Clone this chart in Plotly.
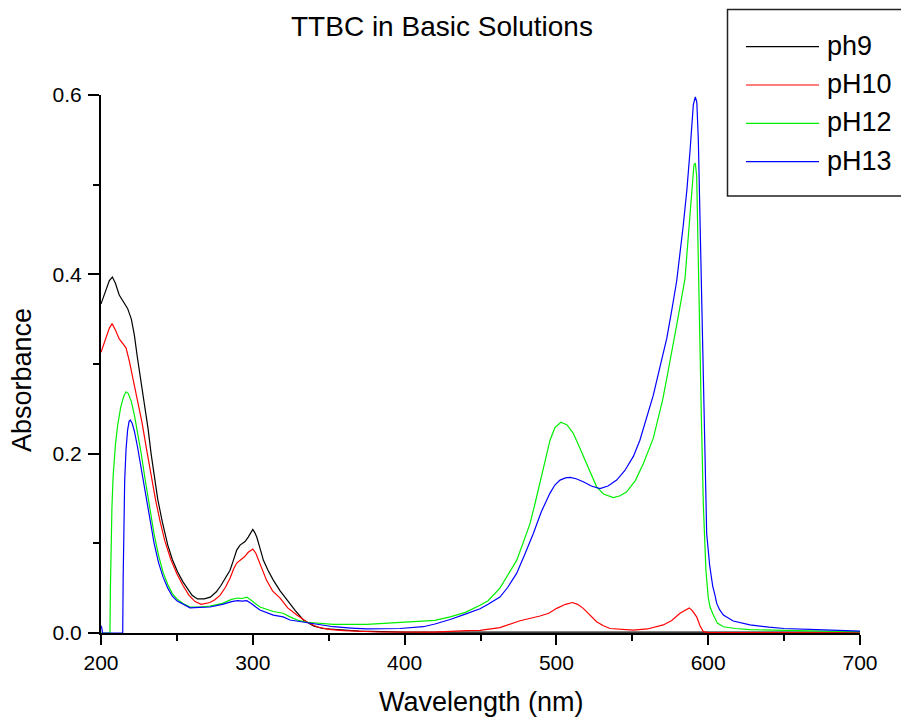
import plotly.graph_objects as go

# ---------------- data ----------------
names = ["ph9", "pH10", "pH12", "pH13"]
colors = ["#000000", "#ff0000", "#00ee00", "#0000ff"]

ph9_nm = [200, 203, 205.5, 207.5, 209.5, 212, 215, 217.5, 220, 222, 224, 226.5, 228.6, 231, 233, 235,
          237.4, 240.5, 244, 247, 250.5, 254, 257, 260, 263.5, 268, 272, 276, 279, 282, 285, 287.2,
          289.4, 291.6, 294.9, 297, 298.5, 300, 301.3, 302.6, 305, 307, 310, 313.5, 318, 322.3, 328,
          333.3, 340, 346, 357, 370, 400, 450, 500, 550, 600, 650, 700]
ph9_abs = [0.367, 0.382, 0.393, 0.397, 0.390, 0.377, 0.368, 0.362, 0.350, 0.332, 0.307, 0.280, 0.256,
           0.228, 0.200, 0.175, 0.149, 0.123, 0.098, 0.082, 0.068, 0.057, 0.049, 0.042, 0.038, 0.038,
           0.040, 0.046, 0.053, 0.061, 0.070, 0.081, 0.0925, 0.098, 0.102, 0.107, 0.112, 0.1156, 0.112,
           0.107, 0.093, 0.081, 0.070, 0.059, 0.047, 0.037, 0.025, 0.0145, 0.008, 0.005, 0.0035, 0.002,
           0.001, 0.001, 0.0015, 0.001, 0.001, 0.001, 0.001]

ph10_nm = [200, 203, 205.5, 207.3, 209.5, 212, 216.5, 218.7, 221, 224, 227, 230, 233, 236, 239, 242,
           246, 250, 254, 258, 262, 266, 271.8, 275, 278.4, 282, 285, 287.5, 289.4, 291.6, 294.5, 297,
           300, 302, 304.7, 309, 313, 318, 323, 329, 335.5, 342, 350, 360, 383, 419, 441, 449.7, 462.8,
           476, 489.2, 495, 500.2, 506, 510.6, 514, 517.7, 522, 526.5, 531, 535.3, 550.7, 560, 570.4,
           576, 581.4, 585, 587.5, 589.5, 592.4, 594.6, 596.8, 600, 650, 700]
ph10_abs = [0.313, 0.328, 0.340, 0.345, 0.338, 0.328, 0.318, 0.303, 0.285, 0.262, 0.235, 0.205, 0.175,
            0.148, 0.124, 0.103, 0.082, 0.066, 0.053, 0.042, 0.035, 0.032, 0.034, 0.037, 0.042, 0.051,
            0.061, 0.072, 0.078, 0.0806, 0.085, 0.090, 0.0936, 0.089, 0.078, 0.059, 0.047, 0.039, 0.028,
            0.020, 0.0126, 0.007, 0.004, 0.0026, 0.0011, 0.001, 0.0026, 0.003, 0.006, 0.0137, 0.019,
            0.022, 0.0275, 0.032, 0.034, 0.032, 0.0275, 0.020, 0.0126, 0.008, 0.005, 0.0033, 0.0045,
            0.009, 0.014, 0.022, 0.026, 0.028, 0.025, 0.018, 0.008, 0.0015, 0.0005, 0.0003, 0.0003]

ph12_nm = [200, 205.9, 206.2, 206.6, 207.2, 208, 209.5, 211, 213, 215, 216.5, 218, 220, 222, 224, 226.5,
           229, 232, 235, 238, 241, 244, 247, 250, 254, 258.6, 265, 271.8, 280, 286, 290, 293, 296,
           298.5, 302.6, 304.7, 313.5, 320, 324.5, 330, 335.5, 345, 353, 375, 390.4, 400, 412.3, 420,
           430, 440, 449.7, 455, 462.8, 468, 473.8, 478, 482.6, 486, 489.2, 492.5, 495.8, 499, 503, 507,
           511, 514, 517.7, 522, 526.5, 531, 537.5, 542, 546.3, 552, 557.3, 563.8, 570, 572.7, 576,
           579.2, 584.7, 588, 590.6, 591.5, 592.4, 593.2, 594.1, 595.5, 596.8, 598.5, 600, 601.2, 603.4,
           606, 610, 618, 627.5, 650, 675, 700]
ph12_abs = [0.0, 0.0, 0.05, 0.10, 0.14, 0.175, 0.21, 0.232, 0.252, 0.264, 0.269, 0.267, 0.258, 0.243,
            0.225, 0.200, 0.172, 0.140, 0.110, 0.086, 0.067, 0.054, 0.044, 0.038, 0.033, 0.029, 0.029,
            0.030, 0.033, 0.0375, 0.039, 0.0385, 0.040, 0.037, 0.032, 0.029, 0.024, 0.022, 0.018, 0.014,
            0.012, 0.0105, 0.0097, 0.0097, 0.011, 0.0115, 0.0126, 0.014, 0.018, 0.023, 0.031, 0.036,
            0.050, 0.064, 0.081, 0.100, 0.122, 0.145, 0.167, 0.192, 0.215, 0.229, 0.235, 0.232, 0.223,
            0.212, 0.197, 0.180, 0.163, 0.155, 0.151, 0.153, 0.1575, 0.170, 0.189, 0.217, 0.26, 0.284,
            0.313, 0.343, 0.395, 0.462, 0.522, 0.524, 0.51, 0.44, 0.351, 0.24, 0.143, 0.07, 0.040, 0.029,
            0.020, 0.011, 0.007, 0.005, 0.0037, 0.0026, 0.002, 0.0015]

ph13_nm = [200, 200.5, 201, 214.3, 214.6, 215, 215.6, 216.5, 217.5, 218.5, 219.3, 220.5, 222, 224,
           226.5, 229, 232, 235, 238, 241, 244, 247, 250, 254, 258.6, 265, 271.8, 280, 286, 290, 293,
           296, 299, 302, 304.7, 313.5, 320, 324.5, 335.5, 345, 353, 365, 375, 397, 405, 412.3, 420,
           430, 440, 449.7, 455, 462.8, 468, 473.8, 479, 484.8, 490, 495.8, 499, 502.4, 506, 509, 513,
           517.7, 523, 528.7, 534, 539.7, 545, 550.7, 555, 561, 563.8, 568, 572.7, 576, 579.2, 583.6,
           586, 588, 590.2, 591.5, 592.5, 593.5, 594.5, 595.7, 597, 598.3, 599, 601, 603, 604.5, 605.6,
           607.5, 610, 616.5, 627.5, 640, 650, 671.5, 700]
ph13_abs = [0.008, 0.006, 0.0, 0.0, 0.06, 0.12, 0.17, 0.205, 0.226, 0.236, 0.2375, 0.234, 0.225, 0.208,
            0.184, 0.158, 0.128, 0.100, 0.078, 0.062, 0.050, 0.041, 0.036, 0.032, 0.028, 0.0285, 0.029,
            0.032, 0.035, 0.036, 0.0355, 0.036, 0.033, 0.029, 0.0256, 0.020, 0.018, 0.0145, 0.0115,
            0.009, 0.007, 0.0055, 0.0045, 0.005, 0.006, 0.007, 0.010, 0.015, 0.021, 0.027, 0.032, 0.040,
            0.051, 0.0665, 0.087, 0.111, 0.135, 0.156, 0.165, 0.1705, 0.173, 0.1735, 0.172, 0.1687,
            0.164, 0.161, 0.164, 0.1705, 0.181, 0.197, 0.215, 0.25, 0.265, 0.295, 0.3285, 0.36, 0.392,
            0.455, 0.495, 0.537, 0.589, 0.598, 0.592, 0.55, 0.47, 0.388, 0.26, 0.143, 0.111, 0.075,
            0.052, 0.042, 0.033, 0.026, 0.020, 0.0134, 0.009, 0.0065, 0.005, 0.0037, 0.0022]

x_tickvals = [200, 300, 400, 500, 600, 700]
y_tickvals = [0.0, 0.2, 0.4, 0.6]

title_text = "TTBC in Basic Solutions"
x_title = "Wavelength (nm)"
y_title = "Absorbance"

series_x = [ph9_nm, ph10_nm, ph12_nm, ph13_nm]
series_y = [ph9_abs, ph10_abs, ph12_abs, ph13_abs]

# ---------------- figure ----------------
W, H = 901, 717
L, R, T, B = 101, 41, 95, 84
pw, ph = W - L - R, H - T - B
FONT = "Liberation Sans, Arial, sans-serif"

def px2x(px):
    return (px - L) / pw

def px2y(py):
    return (H - B - py) / ph

fig = go.Figure()
for xs, ys, nm, c in zip(series_x, series_y, names, colors):
    fig.add_trace(go.Scatter(x=xs, y=ys, mode="lines", name=nm,
                             line=dict(color=c, width=1.2), showlegend=False))

axis_common = dict(showline=True, linecolor="black", linewidth=2, ticks="outside",
                   tickwidth=2, tickcolor="black", showgrid=False, zeroline=False,
                   tickfont=dict(family=FONT, size=21, color="black"))
fig.update_xaxes(range=[200, 700], tickvals=x_tickvals, ticklen=10,
                 minor=dict(dtick=50, tick0=200, ticklen=6, tickwidth=2, ticks="outside",
                            tickcolor="black"),
                 ticklabelstandoff=0, **axis_common)
fig.update_yaxes(range=[0, 0.6], tickvals=y_tickvals, tickformat=".1f", ticklen=11,
                 minor=dict(dtick=0.1, tick0=0, ticklen=6, tickwidth=2, ticks="outside",
                            tickcolor="black"),
                 ticklabelstandoff=2, **axis_common)

annotations = [
    dict(text=title_text, x=px2x(442), y=px2y(26), xref="paper", yref="paper",
         showarrow=False, xanchor="center", yanchor="middle",
         font=dict(family=FONT, size=28, color="black")),
    dict(text=x_title, x=px2x(481), y=px2y(702), xref="paper", yref="paper",
         showarrow=False, xanchor="center", yanchor="middle",
         font=dict(family=FONT, size=27, color="black")),
    dict(text=y_title, x=px2x(22), y=px2y(380), xref="paper", yref="paper",
         showarrow=False, xanchor="center", yanchor="middle", textangle=-90,
         font=dict(family=FONT, size=27, color="black")),
]

# custom legend box (styled like the original)
shapes = [dict(type="rect", xref="paper", yref="paper",
               x0=px2x(727.5), x1=px2x(905), y0=px2y(196), y1=px2y(9.5),
               line=dict(color="#222222", width=1.5), fillcolor="white", layer="above")]
leg_y0, leg_dy = 46.7, 38.3
for i, (nm, c) in enumerate(zip(names, colors)):
    yy = leg_y0 + i * leg_dy
    shapes.append(dict(type="line", xref="paper", yref="paper",
                       x0=px2x(746), x1=px2x(819), y0=px2y(yy), y1=px2y(yy),
                       line=dict(color=c, width=1.2), layer="above"))
    annotations.append(dict(text=nm, x=px2x(825), y=px2y(yy - 1), xref="paper", yref="paper",
                            showarrow=False, xanchor="left", yanchor="middle",
                            font=dict(family=FONT, size=27, color="black")))

fig.update_layout(width=W, height=H, margin=dict(l=L, r=R, t=T, b=B, pad=0),
                  paper_bgcolor="white", plot_bgcolor="white",
                  shapes=shapes, annotations=annotations, showlegend=False,
                  font=dict(family=FONT, color="black"))

fig.write_html("out.html")
